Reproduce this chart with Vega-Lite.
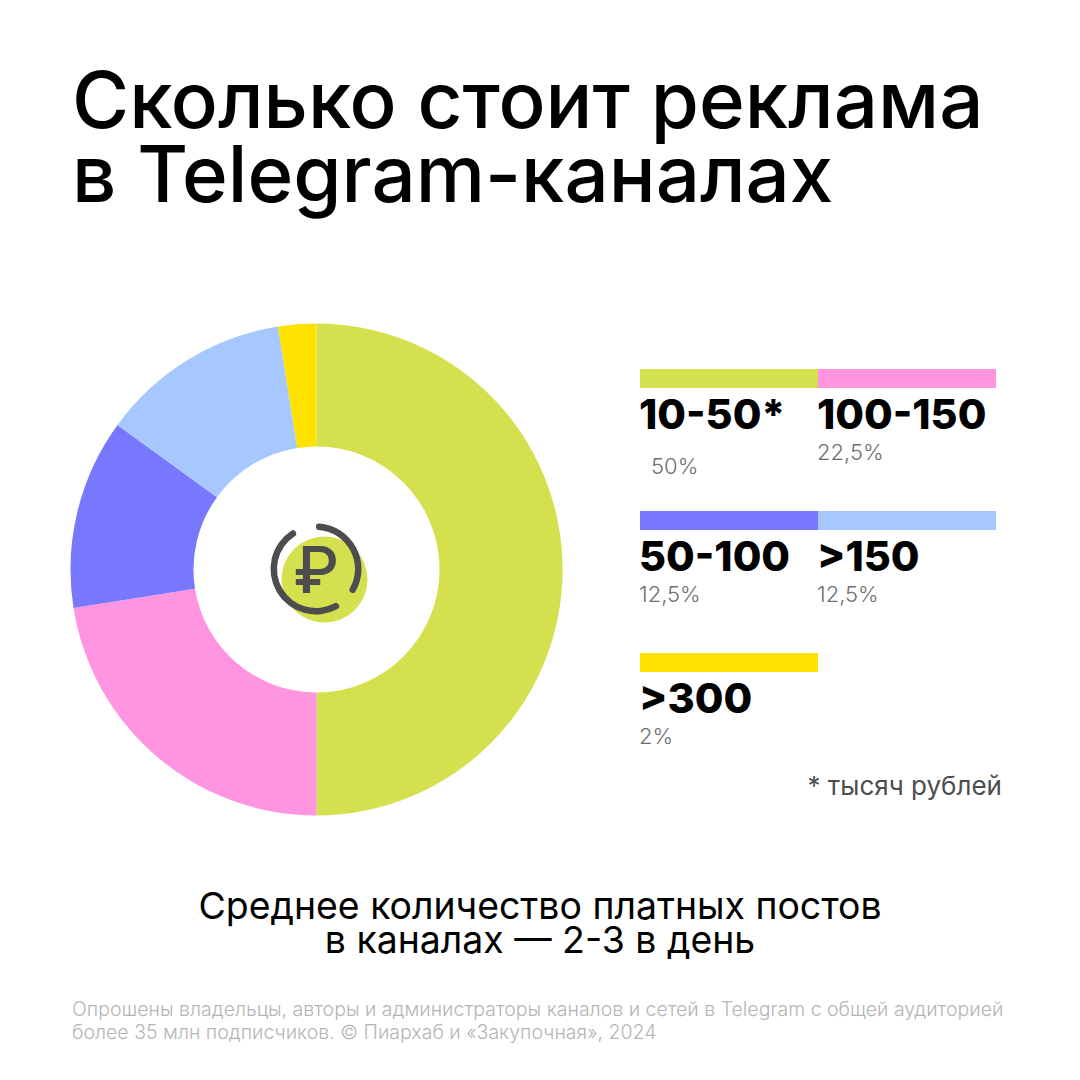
{
"$schema":"https://vega.github.io/schema/vega-lite/v6.json",
"width":1080,"height":1080,"padding":0,
"autosize":{"type":"fit","contains":"padding"},
"background":"#ffffff",
"config":{"view":{"stroke":null},"text":{"font":"Inter"}},
"datasets":{
"shares":[
{"range":"10-50*","share":50,"label":"50%","order":1,"column":"left","tier":"top"},
{"range":"100-150","share":22.5,"label":"22,5%","order":2,"column":"right","tier":"top"},
{"range":"50-100","share":12.5,"label":"12,5%","order":3,"column":"left","tier":"middle"},
{"range":">150","share":12.5,"label":"12,5%","order":4,"column":"right","tier":"middle"},
{"range":">300","share":2.5,"label":"2%","order":5,"column":"left","tier":"bottom"}
],
"ring":[{"from":0,"to":34.4},{"from":41,"to":92}]
},
"layer":[
{"data":{"name":"shares"},"mark":{"type":"arc","x":316.5,"y":569.5,"radius":246,"radius2":123},
"encoding":{"theta":{"field":"share","type":"quantitative","stack":true,"scale":{"domain":[0,100]}},"order":{"field":"order","type":"quantitative"},
"color":{"field":"range","type":"nominal","legend":null,"scale":{"domain":["10-50*","100-150","50-100",">150",">300"],"range":["#D4E04E","#FF94E0","#7878FF","#A6C8FF","#FFE200"]}}}},
{"data":{"values":[{"icon":"ruble"}]},"mark":{"type":"point","shape":"circle","filled":true,"opacity":1,"x":324.5,"y":579.5,"size":7396,"color":"#D4E04E"},"encoding":{}},
{"data":{"name":"ring"},"mark":{"type":"arc","x":316,"y":569,"radius":45.5,"radius2":39,"cornerRadius":3,"color":"#4D4D4F"},
"encoding":{"theta":{"field":"from","type":"quantitative","scale":{"domain":[0,100]}},"theta2":{"field":"to"}}},
{"data":{"values":[{"sign":"₽"}]},"mark":{"type":"text","x":316,"y":593,"align":"center","baseline":"alphabetic","fontSize":64,"fontWeight":500,"color":"#4D4D4F"},"encoding":{"text":{"field":"sign"}}},
{"data":{"name":"shares"},"mark":{"type":"rect","height":19},
"encoding":{"x":{"field":"column","type":"nominal","axis":null,"scale":{"type":"band","domain":["left","right"],"range":[640,996],"padding":0}},
"y":{"field":"tier","type":"nominal","axis":null,"scale":{"type":"band","domain":["top","middle","bottom"],"range":[307.5,733.5],"padding":0}},
"color":{"field":"range","type":"nominal","legend":null}}},
{"data":{"name":"shares"},"mark":{"type":"text","align":"left","baseline":"alphabetic","dx":-1,"dy":50,"fontSize":41.5,"fontWeight":800,"color":"#000000"},
"encoding":{"x":{"field":"column","type":"nominal","bandPosition":0,"axis":null},"y":{"field":"tier","type":"nominal","axis":null},"text":{"field":"range"}}},
{"data":{"name":"shares"},"transform":[{"filter":"datum.range !== '10-50*'"}],"mark":{"type":"text","align":"left","baseline":"alphabetic","dx":-1,"dy":81.5,"fontSize":22,"fontWeight":300,"color":"#6F6F6F"},
"encoding":{"x":{"field":"column","type":"nominal","bandPosition":0,"axis":null},"y":{"field":"tier","type":"nominal","axis":null},"text":{"field":"label"}}},
{"data":{"name":"shares"},"transform":[{"filter":"datum.range === '10-50*'"}],"mark":{"type":"text","align":"left","baseline":"alphabetic","dx":11,"dy":95,"fontSize":22,"fontWeight":300,"color":"#6F6F6F"},
"encoding":{"x":{"field":"column","type":"nominal","bandPosition":0,"axis":null},"y":{"field":"tier","type":"nominal","axis":null},"text":{"field":"label"}}},
{"data":{"values":[{"t":"Сколько стоит реклама\nв Telegram-каналах"}]},"mark":{"type":"text","x":72,"y":128,"align":"left","baseline":"alphabetic","lineBreak":"\n","lineHeight":74,"fontSize":78,"fontWeight":500,"color":"#000000"},"encoding":{"text":{"field":"t"}}},
{"data":{"values":[{"t":"* тысяч рублей"}]},"mark":{"type":"text","x":1002,"y":795,"align":"right","baseline":"alphabetic","fontSize":26,"fontWeight":400,"color":"#4D4D4F"},"encoding":{"text":{"field":"t"}}},
{"data":{"values":[{"t":"Среднее количество платных постов\nв каналах — 2-3 в день"}]},"mark":{"type":"text","x":540,"y":919,"align":"center","baseline":"alphabetic","lineBreak":"\n","lineHeight":34,"fontSize":37.4,"fontWeight":400,"color":"#000000"},"encoding":{"text":{"field":"t"}}},
{"data":{"values":[{"t":"Опрошены владельцы, авторы и администраторы каналов и сетей в Telegram с общей аудиторией\nболее 35 млн подписчиков. © Пиархаб и «Закупочная», 2024"}]},"mark":{"type":"text","x":72,"y":1016,"align":"left","baseline":"alphabetic","lineBreak":"\n","lineHeight":23,"fontSize":19.5,"fontWeight":300,"color":"#B5B5B5"},"encoding":{"text":{"field":"t"}}}
]
}
